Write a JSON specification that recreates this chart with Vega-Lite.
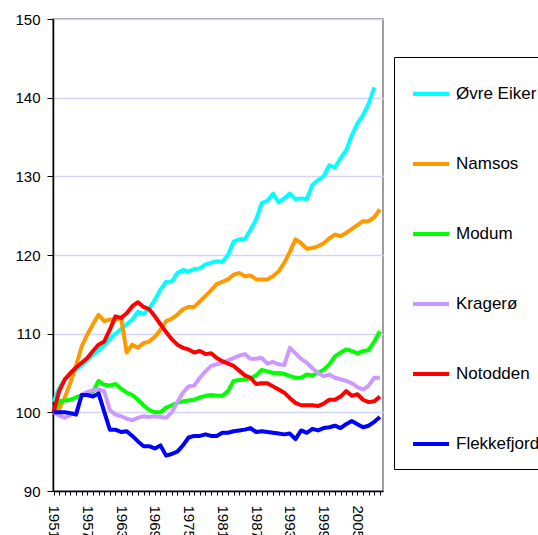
{
  "$schema": "https://vega.github.io/schema/vega-lite/v6.json",
  "autosize": {"type": "none"},
  "padding": {"left": 53, "top": 19, "right": 155, "bottom": 44},
  "width": 330,
  "height": 472,
  "background": "white",
  "config": {
    "font": "Liberation Sans",
    "view": {"stroke": "#808080", "strokeWidth": 1.5},
    "axis": {"domainColor": "black", "tickColor": "black", "labelColor": "black", "labelFont": "Liberation Sans"}
  },
  "data": {
    "values": [
      {"year":1951,"Øvre Eiker":101.3,"Namsos":100.0,"Modum":100.0,"Kragerø":100.0,"Notodden":100.0,"Flekkefjord":100.0},
      {"year":1952,"Øvre Eiker":103.1,"Namsos":100.4,"Modum":101.4,"Kragerø":99.6,"Notodden":102.7,"Flekkefjord":100.0},
      {"year":1953,"Øvre Eiker":104.1,"Namsos":101.9,"Modum":101.5,"Kragerø":99.3,"Notodden":104.2,"Flekkefjord":100.0},
      {"year":1954,"Øvre Eiker":104.8,"Namsos":103.8,"Modum":101.6,"Kragerø":99.7,"Notodden":105.0,"Flekkefjord":99.9},
      {"year":1955,"Øvre Eiker":105.4,"Namsos":105.9,"Modum":101.9,"Kragerø":100.0,"Notodden":105.7,"Flekkefjord":99.7},
      {"year":1956,"Øvre Eiker":106.0,"Namsos":108.4,"Modum":102.2,"Kragerø":102.2,"Notodden":106.3,"Flekkefjord":102.2},
      {"year":1957,"Øvre Eiker":106.6,"Namsos":109.9,"Modum":102.4,"Kragerø":102.6,"Notodden":106.9,"Flekkefjord":102.2},
      {"year":1958,"Øvre Eiker":107.3,"Namsos":111.2,"Modum":102.6,"Kragerø":102.8,"Notodden":107.8,"Flekkefjord":102.0},
      {"year":1959,"Øvre Eiker":107.9,"Namsos":112.4,"Modum":104.0,"Kragerø":102.9,"Notodden":108.6,"Flekkefjord":102.4},
      {"year":1960,"Øvre Eiker":108.5,"Namsos":111.6,"Modum":103.5,"Kragerø":102.7,"Notodden":109.0,"Flekkefjord":100.1},
      {"year":1961,"Øvre Eiker":109.3,"Namsos":111.8,"Modum":103.4,"Kragerø":100.3,"Notodden":110.5,"Flekkefjord":97.8},
      {"year":1962,"Øvre Eiker":110.0,"Namsos":111.8,"Modum":103.6,"Kragerø":99.7,"Notodden":112.2,"Flekkefjord":97.8},
      {"year":1963,"Øvre Eiker":110.6,"Namsos":112.0,"Modum":103.0,"Kragerø":99.5,"Notodden":112.0,"Flekkefjord":97.5},
      {"year":1964,"Øvre Eiker":111.2,"Namsos":107.6,"Modum":102.5,"Kragerø":99.2,"Notodden":112.6,"Flekkefjord":97.6},
      {"year":1965,"Øvre Eiker":111.8,"Namsos":108.6,"Modum":102.2,"Kragerø":99.0,"Notodden":113.5,"Flekkefjord":97.0},
      {"year":1966,"Øvre Eiker":112.8,"Namsos":108.2,"Modum":101.6,"Kragerø":99.3,"Notodden":114.0,"Flekkefjord":96.3},
      {"year":1967,"Øvre Eiker":112.5,"Namsos":108.8,"Modum":100.9,"Kragerø":99.5,"Notodden":113.4,"Flekkefjord":95.7},
      {"year":1968,"Øvre Eiker":113.2,"Namsos":109.0,"Modum":100.3,"Kragerø":99.4,"Notodden":113.1,"Flekkefjord":95.7},
      {"year":1969,"Øvre Eiker":114.3,"Namsos":109.6,"Modum":100.0,"Kragerø":99.5,"Notodden":112.2,"Flekkefjord":95.4},
      {"year":1970,"Øvre Eiker":115.6,"Namsos":110.5,"Modum":100.0,"Kragerø":99.4,"Notodden":111.2,"Flekkefjord":95.8},
      {"year":1971,"Øvre Eiker":116.6,"Namsos":111.6,"Modum":100.6,"Kragerø":99.3,"Notodden":110.2,"Flekkefjord":94.5},
      {"year":1972,"Øvre Eiker":116.6,"Namsos":111.9,"Modum":100.9,"Kragerø":100.0,"Notodden":109.3,"Flekkefjord":94.7},
      {"year":1973,"Øvre Eiker":117.7,"Namsos":112.4,"Modum":101.2,"Kragerø":101.3,"Notodden":108.6,"Flekkefjord":95.0},
      {"year":1974,"Øvre Eiker":118.1,"Namsos":113.1,"Modum":101.4,"Kragerø":102.5,"Notodden":108.2,"Flekkefjord":95.8},
      {"year":1975,"Øvre Eiker":117.9,"Namsos":113.4,"Modum":101.5,"Kragerø":103.3,"Notodden":108.0,"Flekkefjord":96.8},
      {"year":1976,"Øvre Eiker":118.2,"Namsos":113.4,"Modum":101.6,"Kragerø":103.4,"Notodden":107.6,"Flekkefjord":97.0},
      {"year":1977,"Øvre Eiker":118.3,"Namsos":114.1,"Modum":101.9,"Kragerø":104.4,"Notodden":107.8,"Flekkefjord":97.0},
      {"year":1978,"Øvre Eiker":118.8,"Namsos":114.8,"Modum":102.1,"Kragerø":105.2,"Notodden":107.4,"Flekkefjord":97.2},
      {"year":1979,"Øvre Eiker":119.0,"Namsos":115.5,"Modum":102.2,"Kragerø":105.9,"Notodden":107.5,"Flekkefjord":97.0},
      {"year":1980,"Øvre Eiker":119.2,"Namsos":116.3,"Modum":102.1,"Kragerø":106.1,"Notodden":106.9,"Flekkefjord":97.0},
      {"year":1981,"Øvre Eiker":119.1,"Namsos":116.6,"Modum":102.1,"Kragerø":106.3,"Notodden":106.5,"Flekkefjord":97.4},
      {"year":1982,"Øvre Eiker":120.0,"Namsos":116.9,"Modum":102.7,"Kragerø":106.6,"Notodden":106.2,"Flekkefjord":97.4},
      {"year":1983,"Øvre Eiker":121.7,"Namsos":117.5,"Modum":104.0,"Kragerø":106.9,"Notodden":105.9,"Flekkefjord":97.6},
      {"year":1984,"Øvre Eiker":122.0,"Namsos":117.7,"Modum":104.1,"Kragerø":107.2,"Notodden":105.3,"Flekkefjord":97.7},
      {"year":1985,"Øvre Eiker":122.0,"Namsos":117.3,"Modum":104.2,"Kragerø":107.4,"Notodden":104.7,"Flekkefjord":97.8},
      {"year":1986,"Øvre Eiker":123.2,"Namsos":117.4,"Modum":104.3,"Kragerø":106.8,"Notodden":104.4,"Flekkefjord":98.0},
      {"year":1987,"Øvre Eiker":124.5,"Namsos":116.9,"Modum":104.7,"Kragerø":106.8,"Notodden":103.6,"Flekkefjord":97.5},
      {"year":1988,"Øvre Eiker":126.6,"Namsos":116.9,"Modum":105.4,"Kragerø":106.9,"Notodden":103.7,"Flekkefjord":97.6},
      {"year":1989,"Øvre Eiker":126.9,"Namsos":116.9,"Modum":105.2,"Kragerø":106.2,"Notodden":103.7,"Flekkefjord":97.5},
      {"year":1990,"Øvre Eiker":127.8,"Namsos":117.3,"Modum":105.0,"Kragerø":106.4,"Notodden":103.3,"Flekkefjord":97.4},
      {"year":1991,"Øvre Eiker":126.7,"Namsos":117.9,"Modum":105.0,"Kragerø":106.1,"Notodden":102.9,"Flekkefjord":97.3},
      {"year":1992,"Øvre Eiker":127.2,"Namsos":119.0,"Modum":104.9,"Kragerø":106.0,"Notodden":102.5,"Flekkefjord":97.2},
      {"year":1993,"Øvre Eiker":127.8,"Namsos":120.4,"Modum":104.6,"Kragerø":108.2,"Notodden":101.8,"Flekkefjord":97.3},
      {"year":1994,"Øvre Eiker":127.1,"Namsos":122.0,"Modum":104.4,"Kragerø":107.5,"Notodden":101.2,"Flekkefjord":96.6},
      {"year":1995,"Øvre Eiker":127.2,"Namsos":121.5,"Modum":104.4,"Kragerø":106.8,"Notodden":100.9,"Flekkefjord":97.7},
      {"year":1996,"Øvre Eiker":127.1,"Namsos":120.8,"Modum":104.8,"Kragerø":106.3,"Notodden":100.9,"Flekkefjord":97.4},
      {"year":1997,"Øvre Eiker":128.9,"Namsos":120.9,"Modum":104.7,"Kragerø":105.6,"Notodden":100.9,"Flekkefjord":97.9},
      {"year":1998,"Øvre Eiker":129.5,"Namsos":121.1,"Modum":105.0,"Kragerø":105.0,"Notodden":100.8,"Flekkefjord":97.7},
      {"year":1999,"Øvre Eiker":130.0,"Namsos":121.5,"Modum":105.4,"Kragerø":104.6,"Notodden":101.1,"Flekkefjord":98.0},
      {"year":2000,"Øvre Eiker":131.4,"Namsos":122.1,"Modum":106.1,"Kragerø":104.8,"Notodden":101.6,"Flekkefjord":98.1},
      {"year":2001,"Øvre Eiker":131.1,"Namsos":122.6,"Modum":107.1,"Kragerø":104.4,"Notodden":101.6,"Flekkefjord":98.3},
      {"year":2002,"Øvre Eiker":132.3,"Namsos":122.4,"Modum":107.6,"Kragerø":104.2,"Notodden":102.0,"Flekkefjord":98.0},
      {"year":2003,"Øvre Eiker":133.3,"Namsos":122.8,"Modum":108.0,"Kragerø":104.0,"Notodden":102.7,"Flekkefjord":98.5},
      {"year":2004,"Øvre Eiker":135.2,"Namsos":123.3,"Modum":107.8,"Kragerø":103.7,"Notodden":102.1,"Flekkefjord":98.9},
      {"year":2005,"Øvre Eiker":136.7,"Namsos":123.8,"Modum":107.5,"Kragerø":103.2,"Notodden":102.3,"Flekkefjord":98.5},
      {"year":2006,"Øvre Eiker":137.8,"Namsos":124.3,"Modum":107.8,"Kragerø":102.9,"Notodden":101.6,"Flekkefjord":98.1},
      {"year":2007,"Øvre Eiker":139.2,"Namsos":124.3,"Modum":107.9,"Kragerø":103.4,"Notodden":101.3,"Flekkefjord":98.3},
      {"year":2008,"Øvre Eiker":141.3,"Namsos":124.8,"Modum":109.0,"Kragerø":104.4,"Notodden":101.4,"Flekkefjord":98.8},
      {"year":2009,"Øvre Eiker":null,"Namsos":125.8,"Modum":110.3,"Kragerø":104.4,"Notodden":102.0,"Flekkefjord":99.4}
    ]
  },
  "transform": [
    {"fold": ["Øvre Eiker", "Namsos", "Modum", "Kragerø", "Notodden", "Flekkefjord"], "as": ["kommune", "indeks"]},
    {"filter": "datum.indeks != null"}
  ],
  "mark": {"type": "line", "strokeWidth": 4, "strokeJoin": "round", "strokeCap": "butt"},
  "encoding": {
    "x": {
      "field": "year", "type": "quantitative",
      "scale": {"domain": [1950.9, 2009.55], "nice": false, "zero": false},
      "axis": {
        "title": null, "grid": false,
        "values": [1951,1952,1953,1954,1955,1956,1957,1958,1959,1960,1961,1962,1963,1964,1965,1966,1967,1968,1969,1970,1971,1972,1973,1974,1975,1976,1977,1978,1979,1980,1981,1982,1983,1984,1985,1986,1987,1988,1989,1990,1991,1992,1993,1994,1995,1996,1997,1998,1999,2000,2001,2002,2003,2004,2005,2006,2007,2008,2009],
        "labelExpr": "(datum.value - 1951) % 6 === 0 ? '' + datum.value : ''",
        "labelAngle": 90, "labelFontSize": 15, "tickSize": 4, "labelPadding": 10,
        "labelOverlap": false, "labelFlush": false, "domainWidth": 1.5
      }
    },
    "y": {
      "field": "indeks", "type": "quantitative",
      "scale": {"domain": [90, 150], "nice": false, "zero": false},
      "axis": {
        "title": null, "values": [90, 100, 110, 120, 130, 140, 150],
        "gridColor": "#d4d4f7", "gridWidth": 1.5,
        "labelFontSize": 15, "tickSize": 6, "labelPadding": 7, "domainWidth": 1.5
      }
    },
    "color": {
      "field": "kommune", "type": "nominal",
      "scale": {
        "domain": ["Øvre Eiker", "Namsos", "Modum", "Kragerø", "Notodden", "Flekkefjord"],
        "range": ["#00FFFF", "#FF9900", "#00FF00", "#CC99FF", "#FF0000", "#0000FF"]
      },
      "legend": {
        "title": null, "orient": "none", "legendX": 341, "legendY": 38,
        "strokeColor": "black", "padding": 17,
        "symbolType": "stroke", "symbolSize": 1296, "symbolStrokeWidth": 4,
        "labelFontSize": 17, "labelFont": "Liberation Sans", "labelColor": "black",
        "labelOffset": 5, "rowPadding": 42, "labelLimit": 200
      }
    }
  }
}
